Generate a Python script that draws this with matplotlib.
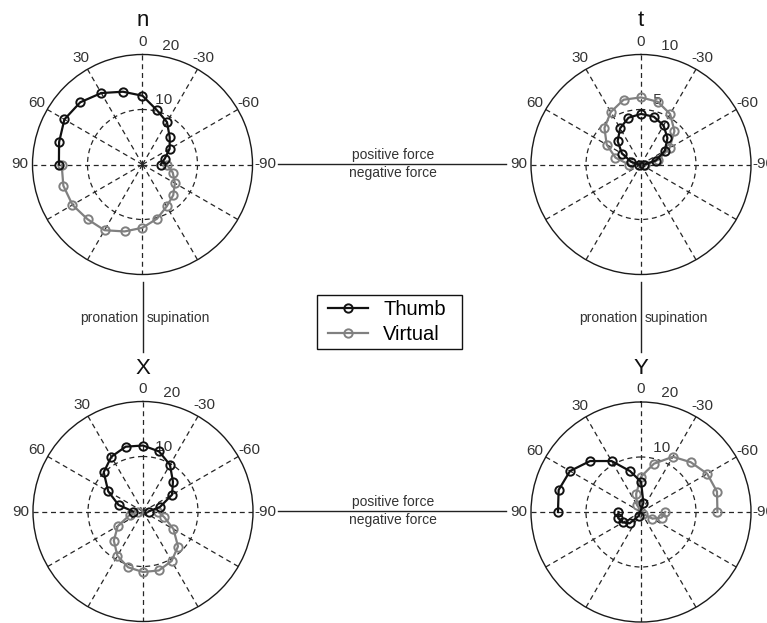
import numpy as np
import matplotlib
matplotlib.use("Agg")
import matplotlib.pyplot as plt
from matplotlib.lines import Line2D
from matplotlib.patches import Rectangle

# Wrist rotation angle (deg) at which each force sample was taken
angles_deg = [90, 75, 60, 45, 30, 15, 0, -15, -30, -45, -60, -75, -90]

# Signed force components (N); negative values plot on the opposite side
n_thumb = [15.2, 15.7, 16.4, 16.0, 15.0, 13.7, 12.5, 10.2, 8.9, 7.0, 5.7, 4.2, 3.3]
n_virtual = [-4.4, -5.7, -6.8, -7.9, -8.8, -10.2, -11.5, -12.6, -13.8, -14.1, -14.7, -14.9, -14.7]

t_thumb = [0.2, 0.9, 2.0, 3.0, 3.8, 4.4, 4.6, 4.5, 4.1, 3.4, 2.5, 1.4, 0.3]
t_virtual = [1.1, 2.4, 3.6, 4.7, 5.5, 6.1, 6.1, 5.9, 5.3, 4.3, 3.0, 1.6, 0.4]

x_thumb = [1.8, 4.6, 7.3, 10.1, 11.5, 12.2, 12.0, 11.3, 9.8, 7.7, 6.1, 3.2, 1.0]
x_virtual = [-2.7, -4.0, -6.4, -9.0, -10.4, -11.1, -11.0, -10.5, -9.3, -7.5, -5.3, -2.5, -1.0]

y_thumb = [15.1, 15.5, 14.9, 13.1, 10.7, 7.7, 5.5, 1.7, -0.8, -2.9, -3.8, -4.3, -4.1]
y_virtual = [-4.4, -3.9, -2.4, -0.5, 1.5, 3.4, 6.4, 9.1, 11.6, 12.8, 13.9, 14.3, 13.9]

panel_titles = ["n", "t", "X", "Y"]
panel_rmax = [20, 10, 20, 20]
angle_ticks = [0, 30, 60, 90, -30, -60, -90]
series_labels = ["Thumb", "Virtual"]

THUMB_COLOR = "#111111"
VIRTUAL_COLOR = "#808080"
GRID_COLOR = "#262626"
TEXT_COLOR = "#333333"

W, H = 767, 623
plt.rcParams["font.family"] = ["Liberation Sans", "DejaVu Sans"]

fig = plt.figure(figsize=(W / 100, H / 100), dpi=100)
fig.patch.set_facecolor("white")

# Full-figure overlay in pixel units for titles and connector annotations
ov = fig.add_axes([0, 0, 1, 1])
ov.set_xlim(0, W)
ov.set_ylim(H, 0)
ov.axis("off")

centers = [(142.5, 164.5), (641, 164.5), (143, 511.5), (641, 512)]
R = 110.0
data = [(n_thumb, n_virtual), (t_thumb, t_virtual),
        (x_thumb, x_virtual), (y_thumb, y_virtual)]

line_kw = dict(lw=1.6, marker="o", ms=6, mew=1.4, mfc="none")


def to_polar(values):
    th = np.deg2rad(np.asarray(angles_deg, dtype=float))
    v = np.asarray(values, dtype=float)
    th = np.where(v < 0, th + np.pi, th)
    return th, np.abs(v)


for (cx, cy), title, rmax, (thumb, virtual) in zip(centers, panel_titles,
                                                     panel_rmax, data):
    ax = fig.add_axes([(cx - R) / W, 1 - (cy + R) / H, 2 * R / W, 2 * R / H],
                      projection="polar")
    ax.set_theta_zero_location("N")
    ax.set_theta_direction(1)
    ax.set_ylim(0, rmax)
    ax.set_xticks(np.deg2rad(np.arange(0, 360, 30)))
    ax.set_xticklabels([])
    ax.set_yticks([rmax / 2])
    ax.set_yticklabels([])
    ax.grid(True, color=GRID_COLOR, linestyle=(0, (4, 3)), linewidth=0.9)
    ax.spines["polar"].set_color("#1a1a1a")
    ax.spines["polar"].set_linewidth(1.0)
    ax.tick_params(length=0, pad=0)

    # angle labels on the upper half
    for deg in angle_ticks:
        ax.text(np.deg2rad(deg), 1.115 * rmax, str(deg), ha="center",
                va="center", fontsize=11, color=TEXT_COLOR, clip_on=False)
    # radial labels
    rinc = rmax / 2
    for rt in (rinc, rmax):
        ax.text(np.deg2rad(-8), rt + rinc / 20, " " + f"{rt:g}", ha="left",
                va="bottom", fontsize=11, color=TEXT_COLOR, clip_on=False)

    th, r = to_polar(thumb)
    ax.plot(th, r, color=THUMB_COLOR, zorder=4, **line_kw)
    th, r = to_polar(virtual)
    ax.plot(th, r, color=VIRTUAL_COLOR, zorder=3, **line_kw)

    ov.text(cx, cy - 138, title, ha="center", va="baseline", fontsize=16,
            color="#111111")

# connectors between panels
small = dict(fontsize=10, color=TEXT_COLOR)
for y in (164, 511):
    ov.plot([278, 506], [y, y], color="#222222", lw=1.0)
    ov.text(393, y - 2, "positive force", ha="center", va="bottom", **small)
    ov.text(393, y + 2, "negative force", ha="center", va="top", **small)
for x in (142.7, 641):
    ov.plot([x, x], [282, 352], color="#222222", lw=1.0)
    ov.text(x - 4, 318, "pronation", ha="right", va="center", **small)
    ov.text(x + 4, 318, "supination", ha="left", va="center", **small)

# legend box and entries
ov.add_patch(Rectangle((317, 295), 145, 54, fill=False, ec="#111111",
                       lw=1.0, zorder=5))
handles = [Line2D([], [], color=THUMB_COLOR, **line_kw),
           Line2D([], [], color=VIRTUAL_COLOR, **line_kw)]
leg = fig.legend(handles, series_labels, loc="upper left",
                 bbox_to_anchor=(328 / W, 1 - 300 / H), fontsize=14.5,
                 frameon=False, handlelength=2.0, handletextpad=0.75,
                 labelspacing=0.3, borderpad=0.0, borderaxespad=0.0)

fig.savefig("out.png", dpi=100)
